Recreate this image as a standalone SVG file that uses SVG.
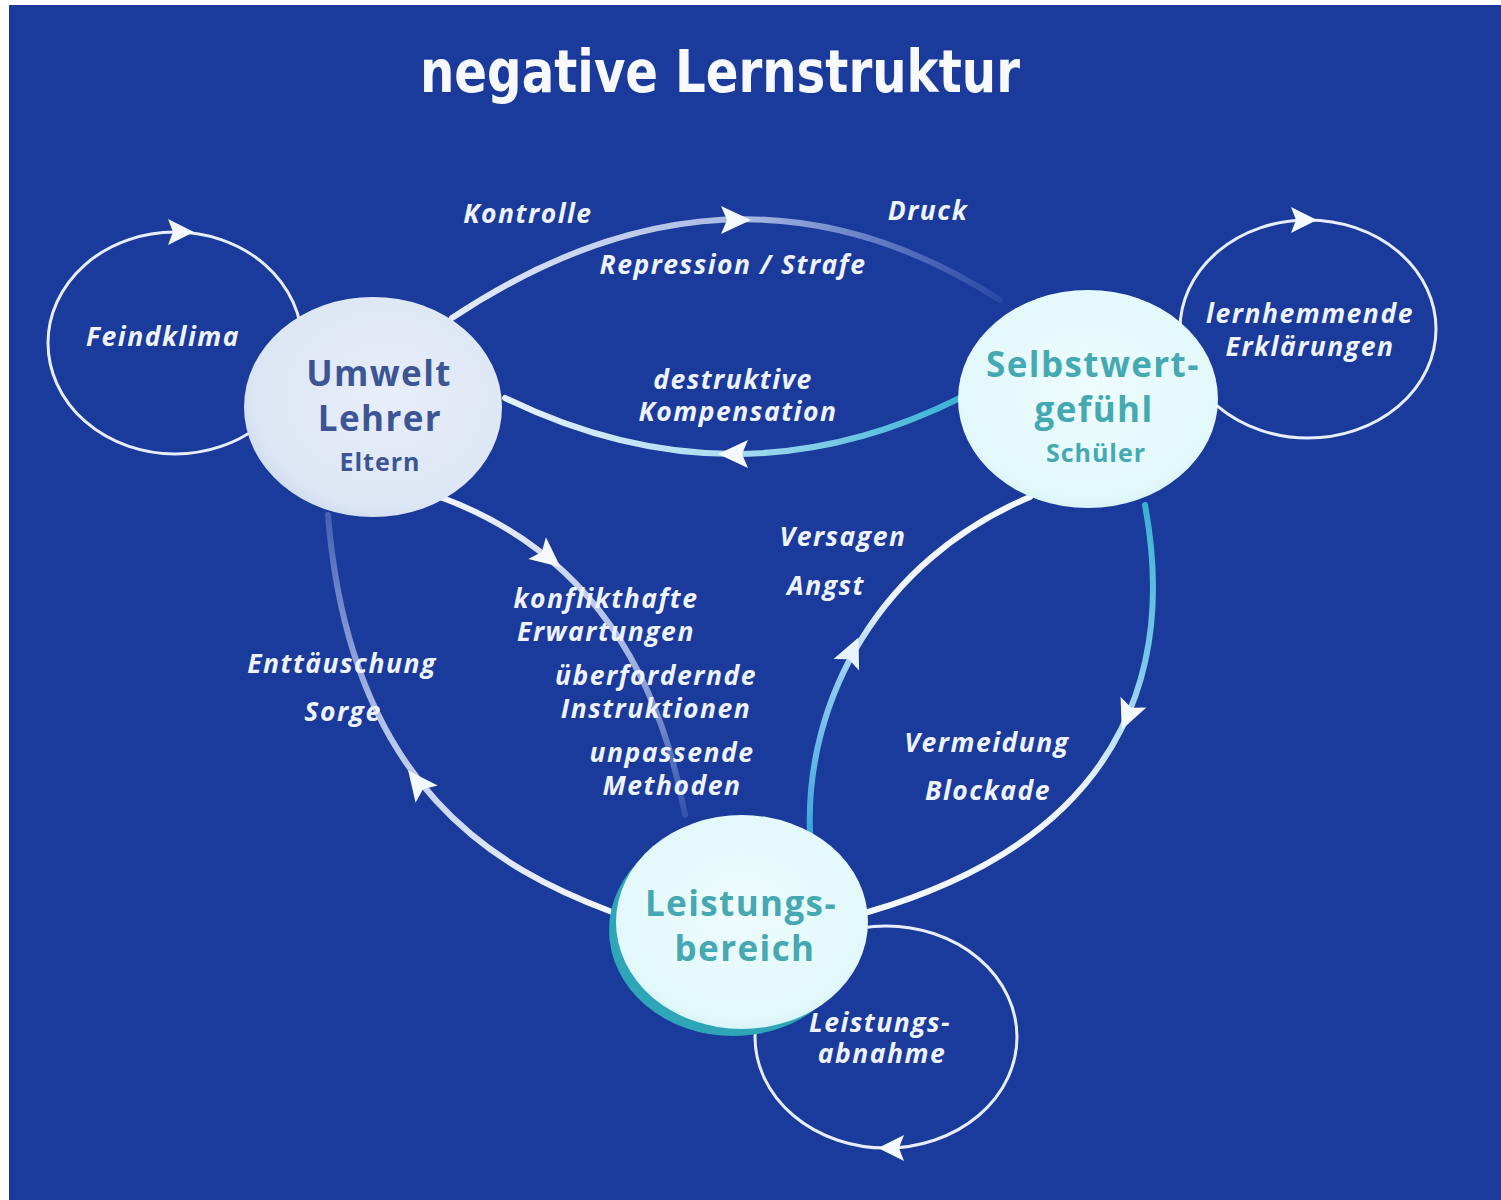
<svg xmlns="http://www.w3.org/2000/svg" width="1501" height="1200" viewBox="0 0 1501 1200">
<defs>
<style>
.lbl{font-family:"Open Sans","Noto Sans","DejaVu Sans",sans-serif;font-style:italic;font-weight:bold;font-size:26.5px;letter-spacing:1.5px;fill:#eef3ff;text-anchor:middle}
.big{font-family:"Open Sans","Noto Sans","DejaVu Sans",sans-serif;font-weight:bold;font-size:35px;letter-spacing:1.4px;text-anchor:middle}
.sm{font-family:"Open Sans","Noto Sans","DejaVu Sans",sans-serif;font-weight:bold;font-size:25px;letter-spacing:1px;text-anchor:middle}
.loop{fill:none;stroke:#e8eeff;stroke-width:3}
.arc{fill:none;stroke-width:6;stroke-linecap:round}
.ah{fill:#f4f8ff}
</style>
<path id="ah" d="M16 0 L-14 -14 L-8 0 L-14 14 Z"/>
<path id="ahs" d="M14 0 L-12 -13 L-7 0 L-12 13 Z"/>
<linearGradient id="g1" gradientUnits="userSpaceOnUse" x1="450" y1="0" x2="1000" y2="0">
<stop offset="0" stop-color="#f0f5ff" stop-opacity="0.95"/>
<stop offset="0.55" stop-color="#e0ebff" stop-opacity="0.7"/>
<stop offset="1" stop-color="#c0d4ff" stop-opacity="0.1"/>
</linearGradient>
<linearGradient id="g2" gradientUnits="userSpaceOnUse" x1="505" y1="0" x2="960" y2="0">
<stop offset="0" stop-color="#e6f0ff"/>
<stop offset="0.5" stop-color="#a8dcf0"/>
<stop offset="1" stop-color="#38b2d6"/>
</linearGradient>
<linearGradient id="g3" gradientUnits="userSpaceOnUse" x1="0" y1="497" x2="0" y2="815">
<stop offset="0" stop-color="#f2f6ff" stop-opacity="1"/>
<stop offset="0.5" stop-color="#e0eaff" stop-opacity="0.7"/>
<stop offset="1" stop-color="#c8d8ff" stop-opacity="0.15"/>
</linearGradient>
<linearGradient id="g4" gradientUnits="userSpaceOnUse" x1="0" y1="912" x2="0" y2="515">
<stop offset="0" stop-color="#f2f6ff" stop-opacity="1"/>
<stop offset="0.5" stop-color="#e0eaff" stop-opacity="0.75"/>
<stop offset="1" stop-color="#c8d8ff" stop-opacity="0.25"/>
</linearGradient>
<linearGradient id="g5" gradientUnits="userSpaceOnUse" x1="0" y1="832" x2="0" y2="497">
<stop offset="0" stop-color="#3aa6dc"/>
<stop offset="0.45" stop-color="#8fcbef"/>
<stop offset="0.7" stop-color="#f0f5ff"/>
<stop offset="1" stop-color="#f4f8ff"/>
</linearGradient>
<linearGradient id="g6" gradientUnits="userSpaceOnUse" x1="0" y1="505" x2="0" y2="912">
<stop offset="0" stop-color="#3ab2d0"/>
<stop offset="0.4" stop-color="#7cc8ec"/>
<stop offset="0.7" stop-color="#eef4ff"/>
<stop offset="1" stop-color="#f4f8ff"/>
</linearGradient>
<radialGradient id="n1" cx="0.55" cy="0.45" r="0.6">
<stop offset="0" stop-color="#e8eef9"/>
<stop offset="0.85" stop-color="#dde6f4"/>
<stop offset="1" stop-color="#cbd8ee"/>
</radialGradient>
<radialGradient id="n2" cx="0.5" cy="0.45" r="0.6">
<stop offset="0" stop-color="#eefcfc"/>
<stop offset="0.85" stop-color="#e2f8fa"/>
<stop offset="1" stop-color="#cfeef3"/>
</radialGradient>
</defs>

<rect x="0" y="0" width="1501" height="1200" fill="#ffffff"/>
<rect x="9" y="5" width="1492" height="1195" fill="#1a3a9c"/>

<text x="720" y="92" font-family="'DejaVu Sans',sans-serif" font-weight="bold" font-size="58" fill="#f7f9ff" textLength="600" lengthAdjust="spacingAndGlyphs" text-anchor="middle">negative Lernstruktur</text>

<g id="loops">
<ellipse class="loop" cx="175" cy="343" rx="127" ry="111"/>
<ellipse class="loop" cx="1308" cy="329" rx="128" ry="109"/>
<ellipse class="loop" cx="886" cy="1037" rx="131" ry="111"/>
</g>

<g id="connectors">
<path class="arc" stroke="url(#g1)" d="M452 318 Q735 130 1000 300"/>
<path class="arc" stroke="url(#g2)" d="M960 398 Q735 510 505 398"/>
<path class="arc" stroke="url(#g3)" d="M440 497 Q640 570 685 815"/>
<path class="arc" stroke="url(#g4)" d="M612 912 C500 870 350 790 328 515"/>
<path class="arc" stroke="url(#g5)" d="M810 832 C805 700 880 560 1030 497"/>
<path class="arc" stroke="url(#g6)" d="M1145 505 C1170 640 1150 830 868 912"/>
<use href="#ah" class="ah" transform="translate(735 220)"/>
<use href="#ah" class="ah" transform="translate(734 454) rotate(180)"/>
<use href="#ah" class="ah" transform="translate(548 557) rotate(39)"/>
<use href="#ah" class="ah" transform="translate(418 783) rotate(-128)"/>
<use href="#ah" class="ah" transform="translate(852 652) rotate(-66)" style="fill:#e8f4ff"/>
<use href="#ah" class="ah" transform="translate(1128 715) rotate(113)"/>
<use href="#ahs" class="ah" transform="translate(180 232)"/>
<use href="#ahs" class="ah" transform="translate(1303 220)"/>
<use href="#ahs" class="ah" transform="translate(892 1148) rotate(180)"/>
</g>

<g id="node-umwelt">
<ellipse cx="373" cy="407" rx="129" ry="110" fill="url(#n1)"/>
<text class="big" x="379" y="386" fill="#3b5595">Umwelt</text>
<text class="big" x="380" y="431" fill="#3b5595">Lehrer</text>
<text class="sm" x="380" y="471" fill="#3b5595">Eltern</text>
</g>

<g id="node-selbstwert">
<ellipse cx="1088" cy="399" rx="130" ry="109" fill="url(#n2)"/>
<text class="big" x="1093" y="377" fill="#45a9b4">Selbstwert-</text>
<text class="big" x="1094" y="422" fill="#45a9b4">gefühl</text>
<text class="sm" x="1096" y="462" fill="#45a9b4">Schüler</text>
</g>

<g id="node-leistung">
<ellipse cx="733" cy="930" rx="124" ry="106" fill="#2ea6b8"/>
<ellipse cx="742" cy="922" rx="126" ry="107" fill="url(#n2)"/>
<text class="big" x="741" y="916" fill="#45a8b3">Leistungs-</text>
<text class="big" x="745" y="961" fill="#45a8b3">bereich</text>
</g>

<g id="labels">
<text class="lbl" x="528" y="223">Kontrolle</text>
<text class="lbl" x="928" y="220">Druck</text>
<text class="lbl" x="733" y="274">Repression / Strafe</text>
<text class="lbl" x="733" y="389">destruktive</text>
<text class="lbl" x="738" y="421">Kompensation</text>
<text class="lbl" x="163" y="346">Feindklima</text>
<text class="lbl" x="1310" y="323">lernhemmende</text>
<text class="lbl" x="1310" y="356">Erklärungen</text>
<text class="lbl" x="843" y="546">Versagen</text>
<text class="lbl" x="826" y="595">Angst</text>
<text class="lbl" x="606" y="608">konflikthafte</text>
<text class="lbl" x="606" y="641">Erwartungen</text>
<text class="lbl" x="656" y="685">überfordernde</text>
<text class="lbl" x="656" y="718">Instruktionen</text>
<text class="lbl" x="672" y="762">unpassende</text>
<text class="lbl" x="672" y="795">Methoden</text>
<text class="lbl" x="342" y="673">Enttäuschung</text>
<text class="lbl" x="343" y="721">Sorge</text>
<text class="lbl" x="987" y="752">Vermeidung</text>
<text class="lbl" x="988" y="800">Blockade</text>
<text class="lbl" x="880" y="1032">Leistungs-</text>
<text class="lbl" x="882" y="1063">abnahme</text>
</g>
</svg>
